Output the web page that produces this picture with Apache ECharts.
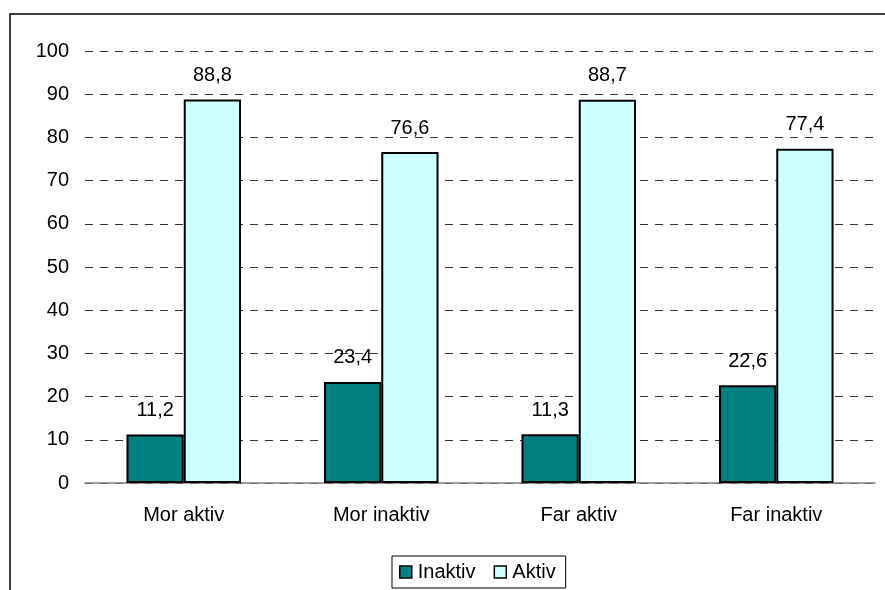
<!DOCTYPE html>
<html>
<head>
<meta charset="utf-8">
<script src="https://cdn.jsdelivr.net/npm/echarts@6/dist/echarts.min.js"></script>
<style>
  html, body { margin: 0; padding: 0; background: #fff; }
  #chart { width: 885px; height: 590px; }
</style>
</head>
<body>
<div id="chart"></div>
<script>
const categories = ['Mor aktiv', 'Mor inaktiv', 'Far aktiv', 'Far inaktiv']
const inaktiv = [11.2, 23.4, 11.3, 22.6]
const aktiv = [88.8, 76.6, 88.7, 77.4]

const chart = echarts.init(document.getElementById('chart'))

const labelOpt = {
  show: true,
  position: 'top',
  distance: 14,
  color: '#000',
  fontSize: 20,
  fontFamily: 'Liberation Sans, Arial, sans-serif',
  formatter: p => String(p.value).replace('.', ',')
}

chart.setOption({
  animation: false,
  textStyle: { fontFamily: 'Liberation Sans, Arial, sans-serif' },
  graphic: [{
    type: 'rect',
    shape: { x: 10, y: 14, width: 900, height: 600 },
    style: { fill: 'none', stroke: '#000', lineWidth: 1.5 },
    z: -1
  }],
  grid: { left: 85, right: 10, top: 51, bottom: 107 },
  legend: {
    data: ['Inaktiv', 'Aktiv'],
    bottom: 2,
    left: 392,
    icon: 'rect',
    itemWidth: 12,
    itemHeight: 12,
    itemGap: 18,
    padding: [6, 10, 6, 7],
    borderColor: '#000',
    borderWidth: 1,
    itemStyle: { borderColor: '#000', borderWidth: 1.5 },
    textStyle: { fontSize: 20, color: '#000', padding: [0, 0, 0, 1] }
  },
  xAxis: {
    type: 'category',
    data: categories,
    axisLine: { lineStyle: { color: '#808080', width: 1.5 } },
    axisTick: { show: false },
    axisLabel: { fontSize: 20, color: '#000', margin: 22 }
  },
  yAxis: {
    type: 'value',
    min: 0,
    max: 100,
    interval: 10,
    axisLine: { show: false },
    axisTick: { show: false },
    axisLabel: { fontSize: 20, color: '#000', margin: 16 },
    splitLine: { lineStyle: { color: '#333', type: [8, 7], width: 1 } }
  },
  series: [
    {
      name: 'Inaktiv',
      type: 'bar',
      data: inaktiv,
      barWidth: '29%',
      barGap: '0%',
      itemStyle: { color: '#008080', borderColor: '#000', borderWidth: 2 },
      label: labelOpt
    },
    {
      name: 'Aktiv',
      type: 'bar',
      data: aktiv,
      barWidth: '29%',
      itemStyle: { color: '#CCFFFF', borderColor: '#000', borderWidth: 2 },
      label: labelOpt
    }
  ]
})
</script>
</body>
</html>
